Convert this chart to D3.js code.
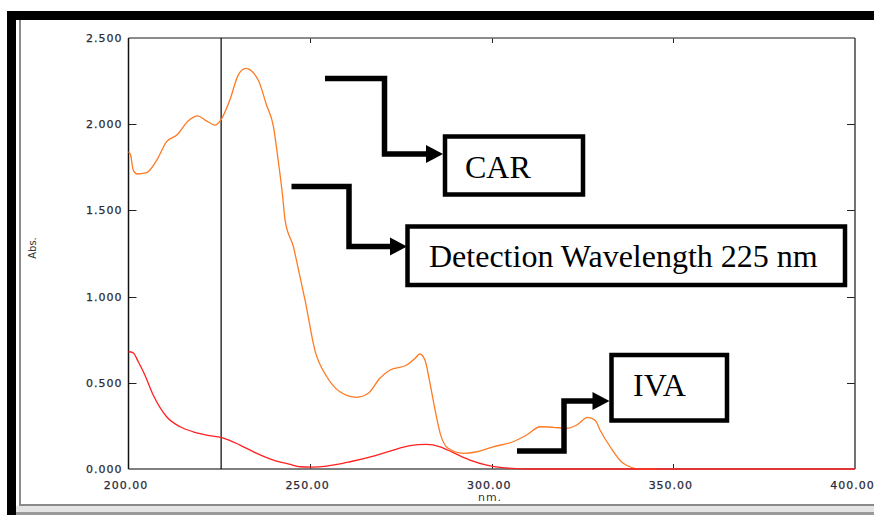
<!DOCTYPE html>
<html>
<head>
<meta charset="UTF-8">
<script src="https://cdn.jsdelivr.net/npm/d3@7"></script>
<style>
  body { margin: 0; background: #fff; }
  svg { display: block; }
  .tick text { font-family: "DejaVu Sans", Verdana, sans-serif; font-size: 11px; fill: #2a2a38; letter-spacing: 1px; stroke: #2a2a38; stroke-width: 0.25px; }
  .note { font-family: "Liberation Serif", "Times New Roman", serif; font-size: 32px; fill: #000; }
</style>
</head>
<body>
<script>
// CAR spectrum (orange) - wavelength nm / absorbance
var carWl  = [200, 200.6, 201.3, 202.3, 205, 207.8, 210.5, 213.3, 216.5, 219, 221.1, 223.8, 225.7, 227.9, 230.2, 232.3, 235.7, 238, 239.9, 241.2, 242.4, 243.1, 245.4, 247, 248.6, 251.3, 254.6, 258.2, 262.8, 266, 269.2, 272, 276.6, 278.9, 280.2, 281.6, 283, 284.4, 285.8, 288, 292.2, 295.9, 300.4, 305.9, 309.6, 313.3, 316.9, 320.6, 323.4, 326.4, 328.5, 329.8, 332.6, 336.2, 340.8, 345.5];
var carAbs = [1.84, 1.82, 1.734, 1.711, 1.719, 1.792, 1.899, 1.937, 2.02, 2.048, 2.024, 1.995, 2.034, 2.14, 2.285, 2.324, 2.256, 2.111, 1.986, 1.792, 1.589, 1.444, 1.289, 1.135, 0.98, 0.69, 0.535, 0.448, 0.416, 0.439, 0.526, 0.574, 0.603, 0.642, 0.667, 0.632, 0.497, 0.342, 0.207, 0.12, 0.091, 0.1, 0.129, 0.158, 0.197, 0.245, 0.242, 0.236, 0.255, 0.3, 0.282, 0.226, 0.129, 0.033, 0, 0];

// IVA spectrum (red)
var ivaWl  = [200, 201.2, 202.7, 204.5, 206.8, 210.5, 214.2, 217.8, 221.5, 225.7, 230.7, 235.3, 239.9, 244.5, 247.2, 250.5, 254.6, 261, 267.4, 272.9, 277.5, 282.1, 285.8, 289.4, 294, 298.6, 302.3, 306.9, 310, 400];
var ivaAbs = [0.68, 0.675, 0.622, 0.545, 0.429, 0.303, 0.245, 0.216, 0.197, 0.182, 0.139, 0.091, 0.052, 0.027, 0.013, 0.011, 0.017, 0.042, 0.075, 0.11, 0.135, 0.143, 0.129, 0.095, 0.052, 0.023, 0.01, 0.002, 0, 0];

var xTicks = [200, 250, 300, 350, 400];
var yTicks = [0, 0.5, 1.0, 1.5, 2.0, 2.5];
var detectWl = 225.5;

var W = 874, H = 515;
var plot = {left: 128.5, right: 855, top: 38, bottom: 469};

var svg = d3.select("body").append("svg").attr("width", W).attr("height", H);

// window frame
svg.append("rect").attr("x", 7).attr("y", 11).attr("width", W - 7).attr("height", 9).attr("fill", "#000");
svg.append("rect").attr("x", 7).attr("y", 11).attr("width", 9).attr("height", H - 11).attr("fill", "#000");
svg.append("line").attr("x1", 20).attr("x2", 20).attr("y1", 20).attr("y2", 505).attr("stroke", "#8a8a8a").attr("stroke-width", 2);
svg.append("line").attr("x1", 19).attr("x2", W).attr("y1", 505).attr("y2", 505).attr("stroke", "#8a8a8a").attr("stroke-width", 2);
svg.append("rect").attr("x", 16).attr("y", 506).attr("width", W - 16).attr("height", 6).attr("fill", "#e4e4e4");
svg.append("rect").attr("x", 16).attr("y", 512).attr("width", W - 16).attr("height", 3).attr("fill", "#9a9a9a");

var x = d3.scaleLinear().domain([200, 400]).range([plot.left, plot.right]);
var y = d3.scaleLinear().domain([0, 2.5]).range([plot.bottom, plot.top]);

// axes
var fmtX = d3.format(".2f"), fmtY = d3.format(".3f");
var gx = svg.append("g").attr("transform", "translate(-3," + plot.bottom + ")")
  .call(d3.axisBottom(x).tickValues(xTicks).tickFormat(fmtX).tickSize(0).tickPadding(12));
gx.select(".domain").remove();
var gy = svg.append("g").attr("transform", "translate(" + (plot.left - 6) + ",0)")
  .call(d3.axisLeft(y).tickValues(yTicks).tickFormat(fmtY).tickSize(0).tickPadding(0));
gy.select(".domain").remove();

// inner ticks
var tk = svg.append("g").attr("stroke", "#222").attr("stroke-width", 1);
xTicks.slice(1, -1).forEach(function(v) {
  tk.append("line").attr("x1", Math.round(x(v)) + 0.5).attr("x2", Math.round(x(v)) + 0.5).attr("y1", plot.bottom).attr("y2", plot.bottom - 5);
  tk.append("line").attr("x1", Math.round(x(v)) + 0.5).attr("x2", Math.round(x(v)) + 0.5).attr("y1", plot.top).attr("y2", plot.top + 5);
});
yTicks.slice(1, -1).forEach(function(v) {
  tk.append("line").attr("x1", plot.left).attr("x2", plot.left + 8).attr("y1", Math.round(y(v)) + 0.5).attr("y2", Math.round(y(v)) + 0.5);
  tk.append("line").attr("x1", plot.right).attr("x2", plot.right - 8).attr("y1", Math.round(y(v)) + 0.5).attr("y2", Math.round(y(v)) + 0.5);
});

// plot frame
svg.append("line").attr("x1", plot.left).attr("x2", plot.right).attr("y1", plot.top).attr("y2", plot.top).attr("stroke", "#666").attr("stroke-width", 1.5);
svg.append("line").attr("x1", plot.right).attr("x2", plot.right).attr("y1", plot.top).attr("y2", plot.bottom).attr("stroke", "#444").attr("stroke-width", 1.5);
svg.append("line").attr("x1", plot.left).attr("x2", plot.right).attr("y1", plot.bottom).attr("y2", plot.bottom).attr("stroke", "#555").attr("stroke-width", 1.5);
svg.append("line").attr("x1", plot.left).attr("x2", plot.left).attr("y1", plot.top).attr("y2", plot.bottom).attr("stroke", "#111").attr("stroke-width", 1.5);

// axis titles
svg.append("text").attr("transform", "translate(36,248) rotate(-90)").attr("text-anchor", "middle")
  .style("font-family", "DejaVu Sans, sans-serif").style("font-size", "10px").attr("fill", "#333").text("Abs.");
svg.append("text").attr("x", 490).attr("y", 501).attr("text-anchor", "middle").style("letter-spacing", "1px")
  .style("font-family", "DejaVu Sans, sans-serif").style("font-size", "11px").attr("fill", "#333").text("nm.");

// detection wavelength marker
svg.append("line").attr("x1", x(detectWl)).attr("x2", x(detectWl)).attr("y1", plot.top).attr("y2", plot.bottom)
  .attr("stroke", "#000").attr("stroke-width", 1.2);

// spectra
var line = d3.line().x(function(d) { return x(d[0]); }).y(function(d) { return y(d[1]); }).curve(d3.curveMonotoneX);
var car = d3.zip(carWl, carAbs), iva = d3.zip(ivaWl, ivaAbs);
svg.append("path").datum(car).attr("d", line).attr("fill", "none").attr("stroke", "#ff7a22").attr("stroke-width", 1.3);
svg.append("path").datum(iva).attr("d", line).attr("fill", "none").attr("stroke", "#ff2020").attr("stroke-width", 1.3);

// annotations: elbow arrows + boxed labels
function arrow(pts) {
  var tip = pts[pts.length - 1];
  var body = pts.slice(0, -1).concat([[tip[0] - 16, tip[1]]]);
  svg.append("polyline").attr("points", body.map(function(p) { return p.join(","); }).join(" "))
    .attr("fill", "none").attr("stroke", "#000").attr("stroke-width", 5.5).attr("stroke-linejoin", "miter");
  svg.append("polygon").attr("points", [[tip[0] - 17, tip[1] - 9], [tip[0], tip[1]], [tip[0] - 17, tip[1] + 9]].map(function(p) { return p.join(","); }).join(" "))
    .attr("fill", "#000");
}
function box(x0, y0, x1, y1, label, tx, ty) {
  svg.append("rect").attr("x", x0).attr("y", y0).attr("width", x1 - x0).attr("height", y1 - y0)
    .attr("fill", "#fff").attr("stroke", "#000").attr("stroke-width", 4.5);
  svg.append("text").attr("class", "note").attr("x", tx).attr("y", ty).text(label);
}

arrow([[325, 78.5], [384.5, 78.5], [384.5, 154], [443, 154]]);
box(445, 136.5, 583, 194.5, "CAR", 465, 178);

arrow([[291.5, 186.5], [349, 186.5], [349, 246.5], [407, 246.5]]);
box(407.5, 226.5, 845, 285, "Detection Wavelength 225 nm", 429, 267);

arrow([[517, 451], [564, 451], [564, 401], [609.5, 401]]);
box(611.5, 355, 727, 420.5, "IVA", 633, 396);
</script>
</body>
</html>
